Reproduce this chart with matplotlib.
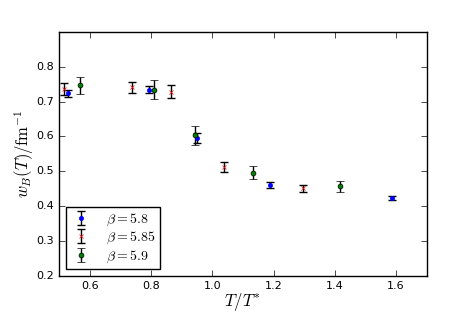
import matplotlib
matplotlib.use("Agg")
import matplotlib.pyplot as plt

plt.style.use('classic')

# beta = 5.8
x58 = [0.527, 0.793, 0.950, 1.188, 1.587]
y58 = [0.724, 0.734, 0.595, 0.460, 0.423]
e58 = [0.010, 0.010, 0.014, 0.009, 0.006]

# beta = 5.85
x585 = [0.516, 0.739, 0.865, 1.037, 1.297]
y585 = [0.736, 0.741, 0.729, 0.512, 0.452]
e585 = [0.016, 0.016, 0.018, 0.014, 0.010]

# beta = 5.9
x59 = [0.567, 0.808, 0.942, 1.132, 1.416]
y59 = [0.747, 0.734, 0.603, 0.496, 0.457]
e59 = [0.024, 0.027, 0.028, 0.018, 0.016]

labels = [r'$\beta=5.8$', r'$\beta=5.85$', r'$\beta=5.9$']

fig = plt.figure(figsize=(4.74, 3.16), dpi=100)
ax = fig.add_axes([0.125, 0.127, 0.775, 0.772])

kw = dict(ls='none', ecolor='k', capsize=3, elinewidth=1, capthick=1)
ax.errorbar(x58, y58, yerr=e58, fmt='o', color='b', mec='b', ms=3, label=labels[0], **kw)
ax.errorbar(x585, y585, yerr=e585, fmt='x', color='r', mec='r', ms=3, label=labels[1], **kw)
ax.errorbar(x59, y59, yerr=e59, fmt='o', color='g', mec='k', mew=0.5, ms=3.5, label=labels[2], **kw)

ax.set_xlim(0.5, 1.7)
ax.set_ylim(0.2, 0.9)
ax.set_xticks([0.6, 0.8, 1.0, 1.2, 1.4, 1.6])
ax.set_yticks([0.2, 0.3, 0.4, 0.5, 0.6, 0.7, 0.8])
ax.tick_params(labelsize=8)
ax.set_xlabel(r'$T/T^{*}$', fontsize=12, labelpad=0)
ax.set_ylabel(r'$w_B(T)/\mathrm{fm}^{-1}$', fontsize=12, labelpad=0)

leg = ax.legend(loc='lower left', numpoints=1, fontsize=10, borderaxespad=0.5,
                handlelength=1.5, handletextpad=1.1, labelspacing=0.15, borderpad=0.3)

fig.savefig('out.png', dpi=100)
